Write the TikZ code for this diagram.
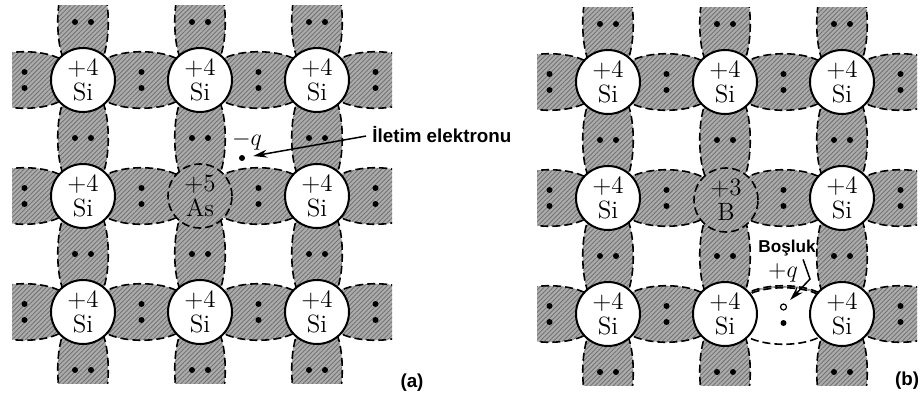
\documentclass[tikz,border=0pt]{standalone}
\usepackage{fontspec}
\newfontfamily\labelfont{Liberation Sans}
\usetikzlibrary{patterns.meta,arrows.meta}

\tikzset{
  dashline/.style={draw, line width=.8pt, dash pattern=on 4pt off 2pt},
  bond/.style={dashline, preaction={fill=gray!65},
    pattern={Lines[angle=45,distance=1.6pt,line width=.45pt]}, pattern color=black!55},
  gap/.style={dashline, fill=white},
  atom/.style={circle, draw, line width=1pt, fill=white, minimum size=32pt, inner sep=0pt,
    align=center, font=\fontsize{12.5}{12.5}\selectfont},
  dopant/.style={atom, bond, line width=.8pt},
  edot/.style={circle, fill, inner sep=0pt, minimum size=3pt},
  hole/.style={circle, draw, fill=white, line width=.6pt, inner sep=0pt, minimum size=3pt},
  tag/.style={font=\labelfont\bfseries\fontsize{9.4}{11}\selectfont, inner sep=0pt},
  pics/hlobe/.style={code={
    \path[#1] (-42,-17) .. controls (-25,-32) and (25,-32) .. (42,-17)
      -- (42,17) .. controls (25,32) and (-25,32) .. (-42,17) -- cycle;}},
  pics/vlobe/.style={code={
    \path[#1] (-17,-42) .. controls (-28,-25) and (-28,25) .. (-17,42)
      -- (17,42) .. controls (28,25) and (28,-25) .. (17,-42) -- cycle;}},
}

\begin{document}
\begin{tikzpicture}[x=.5pt, y=-.5pt, >={Stealth[length=7pt,width=4pt]}]
\useasboundingbox (0,0) rectangle (922,397);

% bonds with their electron pairs
\foreach \ox/\oy in {0/0, 525/2}
{
  \begin{scope}
    \clip (\ox+12,\oy+5) rectangle (\ox+392,\oy+383);
    \foreach \i in {0,...,3}
      \foreach \j in {0,1,2}
      {
        \pic at (\ox+24.5+117*\i,\oy+80+116*\j) {hlobe=bond};
        \fill (\ox+24.5+117*\i,\oy+72+116*\j) circle [radius=3];
        \fill (\ox+24.5+117*\i,\oy+88+116*\j) circle [radius=3];
        \pic at (\ox+83+117*\j,\oy+22+116*\i) {vlobe=bond};
        \fill (\ox+75+117*\j,\oy+22+116*\i) circle [radius=3];
        \fill (\ox+91+117*\j,\oy+22+116*\i) circle [radius=3];
      }
  \end{scope}
}

% broken bond
\pic at (783.5,316) {hlobe=gap};
\node[hole] (h) at (783.5,307) {};
\node[edot] (hd) at (783.5,323) {};

\foreach \p/\ox/\oy in {a/0/0, b/525/2}
  \foreach \i in {0,1,2}
    \foreach \j in {0,1,2}
    {
      \ifnum\i\j=11 \else
        \node[atom] (\p\i\j) at (\ox+83+117*\i,\oy+80+116*\j) {+4\\Si};
      \fi
    }

\node[dopant] (as) at (200,196) {+5\\As};
\node[dopant] (bor) at (726,200) {+3\\B};

% free electron
\node[edot] (fe) at (242,158) {};
\node (mq) at (247,141) {\fontsize{12.5}{12.5}\selectfont$-q$};
\node[tag, anchor=west] (ilet) at (372,135) {İletim elektronu};
\draw[line width=.75pt, ->, shorten <=3pt, shorten >=4pt] (ilet.west) -- (fe);

% hole
\node (pq) at (783,273) {\fontsize{12.5}{12.5}\selectfont$+q$};
\node[tag, font=\labelfont\bfseries\fontsize{8.6}{10}\selectfont] (bos) at (787,248) {Boşluk};
\coordinate (knee) at (810,279);
\draw[line width=.75pt, ->, shorten >=3pt] ([xshift=-6.5pt,yshift=-1.5pt]bos.south east) -- (knee) -- (h);

\node[tag] (pa) at (412,383) {(a)};
\node[tag] (pb) at (907,381) {(b)};
\end{tikzpicture}
\end{document}
